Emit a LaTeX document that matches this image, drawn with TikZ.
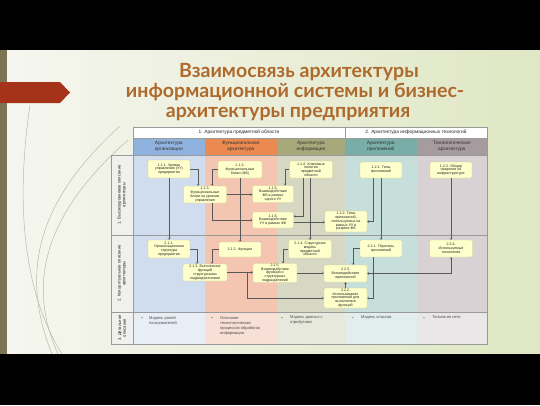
\documentclass[tikz,border=0pt]{standalone}
\usepackage{fontspec}
\setmainfont{Liberation Sans}
\newfontfamily\titlefont{Lato}
\usetikzlibrary{arrows.meta}
\definecolor{bgL}{HTML}{F6F6F0}
\definecolor{bgR}{HTML}{DFE7C3}
\definecolor{stripe}{HTML}{7D7455}
\definecolor{redarrow}{HTML}{A5331A}
\definecolor{titlecol}{HTML}{AE6A2C}
\definecolor{deco}{HTML}{B9B9AC}
\definecolor{cAh}{HTML}{8FB3DE}\definecolor{cAb}{HTML}{CFDDEE}\definecolor{cAl}{HTML}{E7EEF6}
\definecolor{cBh}{HTML}{EA8A50}\definecolor{cBb}{HTML}{F4C6B2}\definecolor{cBl}{HTML}{F8E0D6}
\definecolor{cCh}{HTML}{A7A97A}\definecolor{cCb}{HTML}{D7D8C3}\definecolor{cCl}{HTML}{E8E9DD}
\definecolor{cDh}{HTML}{78AEA7}\definecolor{cDb}{HTML}{C6DFDB}\definecolor{cDl}{HTML}{E2EEEC}
\definecolor{cEh}{HTML}{A69B9E}\definecolor{cEb}{HTML}{D8D2D4}\definecolor{cEl}{HTML}{EAE7E8}
\definecolor{labcol}{HTML}{F0F0EE}
\definecolor{boxfill}{HTML}{FFFFCC}
\definecolor{boxdraw}{HTML}{CFC98F}
\definecolor{gridcol}{HTML}{9A9A9A}
\begin{document}
\begin{tikzpicture}[x=1pt,y=-1pt,
  box/.style={draw=boxdraw, fill=boxfill, rounded corners=1.2pt, align=center, inner sep=0.3pt,
     font=\fontsize{3.6}{3.8}\selectfont, text=black!85},
  sz/.style 2 args={minimum width=#1pt, minimum height=#2pt},
  conn/.style={draw=black!65, line width=0.35pt, -{Straight Barb[length=1.6pt,width=2.6pt]}},
  hdr/.style={inner sep=0pt, align=center, font=\fontsize{4.8}{5.4}\selectfont, text=black!80},
  toph/.style={draw=gridcol, line width=0.4pt, fill=white, inner sep=0pt, font=\fontsize{4.8}{5.4}\selectfont, text=black!85, minimum height=11pt},
  rowlab/.style={rotate=90, align=center, font=\fontsize{4.2}{4.8}\selectfont, text=black!85},
  bul/.style={font=\fontsize{4}{5}\selectfont, text=black!70, inner sep=0pt},
  btxt/.style={anchor=north west, align=left, inner sep=0pt, font=\fontsize{4}{5}\selectfont, text=black!70},
  tline/.style={anchor=base, font=\titlefont\bfseries\fontsize{19.6}{21}\selectfont, text=titlecol}
]
\useasboundingbox (0,0) rectangle (540,405);
% slide background
\shade[left color=bgL, right color=bgR] (0,50) rectangle (540,354);
\fill[black] (0,0) rectangle (540,50);
\fill[black] (0,354) rectangle (540,405);
\fill[stripe] (0,50) rectangle (7,354);
\draw[deco, line width=0.5pt] (30,105) .. controls (16,200) and (22,290) .. (62,354);
\draw[deco, line width=0.5pt] (120,126) .. controls (50,190) and (14,260) .. (52,354);
\draw[deco, line width=0.5pt] (128,140) .. controls (60,200) and (20,270) .. (58,354);
\fill[redarrow] (0,82) -- (60,82) -- (70,92.5) -- (60,103) -- (0,103) -- cycle;
% title
\node[tline] (t1) at (299,77) {Взаимосвязь архитектуры};
\node[tline] (t2) at (295,97) {информационной системы и бизнес-};
\node[tline] (t3) at (288,117) {архитектуры предприятия};
% column bodies
\fill[cAb] (133,155) rectangle (204.5,312); \fill[cAl] (133,312) rectangle (204.5,344);
\fill[cBb] (204.5,155) rectangle (277,312); \fill[cBl] (204.5,312) rectangle (277,344);
\fill[cCb] (277,155) rectangle (345,312);   \fill[cCl] (277,312) rectangle (345,344);
\fill[cDb] (345,155) rectangle (416.5,312); \fill[cDl] (345,312) rectangle (416.5,344);
\fill[cEb] (416.5,155) rectangle (487,312); \fill[cEl] (416.5,312) rectangle (487,344);
\fill[labcol] (111,155) rectangle (133,344);
% top headers
\node[toph, minimum width=212pt] (hA) at (239,132.5) {1. Архитектура предметной области};
\node[toph, minimum width=142pt] (hB) at (416,132.5) {2. Архитектура информационных технологий};
% column headers
\fill[cAh] (133,138) rectangle (204.5,155);
\fill[cBh] (204.5,138) rectangle (277,155);
\fill[cCh] (277,138) rectangle (345,155);
\fill[cDh] (345,138) rectangle (416.5,155);
\fill[cEh] (416.5,138) rectangle (487,155);
\node[hdr] (h1) at (168.75,146.5) {Архитектура\\организации};
\node[hdr] (h2) at (240.75,146.5) {Функциональная\\архитектура};
\node[hdr] (h3) at (311,146.5) {Архитектура\\информации};
\node[hdr] (h4) at (380.75,146.5) {Архитектура\\приложений};
\node[hdr] (h5) at (451.75,146.5) {Технологическая\\архитектура};
% grid
\draw[gridcol, line width=0.5pt] (111,155) rectangle (487,344);
\draw[gridcol, line width=0.4pt] (133,138) -- (487,138);
\draw[gridcol, line width=0.4pt] (133,138) -- (133,155);
\draw[gridcol, line width=0.4pt] (487,138) -- (487,155);
\draw[gridcol, line width=0.6pt] (111,235) -- (487,235);
\draw[gridcol, line width=0.6pt] (111,312) -- (487,312);
\draw[gridcol, line width=0.4pt] (133,155) -- (133,344);
% row labels
\node[rowlab] (r1) at (122,195) {1. Высокоуровневое описание\\архитектуры};
\node[rowlab] (r2) at (122,273.5) {2. Концептуальное описание\\архитектуры};
\node[rowlab] (r3) at (122,328) {3. Детальное\\описание};
% boxes row 1
\node[box, sz={42}{18}] (b111) at (169,169) {1.1.1. Уровни\\управления (УУ)\\предприятия};
\node[box, sz={44}{17}] (b112) at (240,169.5) {1.1.2.\\Функциональные\\блоки (ФБ)};
\node[box, sz={43}{17}] (b113) at (205,194.5) {1.1.3.\\Функциональные\\блоки на уровнях\\управления};
\node[box, sz={43}{17}] (b114) at (311,169.5) {1.1.4. Ключевые\\понятия\\предметной\\области};
\node[box, sz={41}{17}] (b115) at (273,194) {1.1.5.\\Взаимодействие\\ФБ в рамках\\одного УУ};
\node[box, sz={41}{16}] (b116) at (273,220) {1.1.6.\\Взаимодействие\\УУ в рамках ФБ};
\node[box, sz={42}{16}] (b121) at (381,170) {1.2.1. Типы\\приложений};
\node[box, sz={42}{21}] (b122) at (346,221.5) {1.2.2. Типы\\приложений,\\используемых на\\разных УУ в\\разрезе ФБ};
\node[box, sz={42}{16}] (b123) at (451,170) {1.2.3. Общие\\сведения об\\инфраструктуре};
% boxes row 2
\node[box, sz={42}{18}] (b211) at (169,249) {2.1.1.\\Организационная\\структура\\предприятия};
\node[box, sz={42}{15}] (b212) at (240,249.5) {2.1.2. Функции};
\node[box, sz={44}{17}] (b213) at (205,272.5) {2.1.3. Выполнение\\функций\\структурными\\подразделениями};
\node[box, sz={43}{18}] (b214) at (310,249) {2.1.4. Структурная\\модель\\предметной\\области};
\node[box, sz={44}{18}] (b215) at (275,273) {2.1.5.\\Взаимодействие\\функций и\\структурных\\подразделений};
\node[box, sz={42}{17}] (b221) at (381,248.5) {2.2.1. Перечень\\приложений};
\node[box, sz={43}{17}] (b224) at (451,248.5) {2.2.4.\\Используемые\\технологии};
\node[box, sz={43}{17}] (b223) at (345.5,273.5) {2.2.3.\\Взаимодействие\\приложений};
\node[box, sz={43}{20}] (b222) at (345.5,298) {2.2.2.\\Использование\\приложений для\\выполнения\\функций};
% connectors row 1
\draw[conn] (b111.east) -| ([xshift=-7pt]b113.north);
\draw[conn] (b112.west) -| ([xshift=7pt]b113.north);
\draw[conn] (b113.east) -- (b113.east -| b115.west);
\draw[conn] ([xshift=7pt]b113.south) |- (b116.west);
\draw[conn] (b114.west) -| ([xshift=12pt]b115.north);
\draw[conn] ([xshift=-8pt]b114.south) |- ([yshift=4pt]b116.east);
\draw[conn] ([yshift=-2pt]b116.east) -- ([yshift=-2pt]b116.east -| b122.west);
\draw[conn] ([xshift=-8pt]b121.south) |- (b122.east);
\draw[conn] (b121.south) -- (b121.south |- b221.north);
\draw[conn] (b123.south) -- (b123.south |- b224.north);
\draw[conn] (b111.south) -- (b111.south |- b211.north);
\draw[conn] (b112.south) -- (b112.south |- b212.north);
\draw[conn] ([xshift=-1pt]b114.south) -- ([xshift=-1pt]b114.south |- b214.north);
% connectors row 2
\draw[conn] (b211.east) -| ([xshift=-8pt]b213.north);
\draw[conn] (b212.west) -| ([xshift=7pt]b213.north);
\draw[conn] (b213.east) -- (b213.east -| b215.west);
\draw[conn] (b214.west) -| ([xshift=8pt]b215.north);
\draw[conn] (b213.east) -- ++(20,0) |- (b222.west);
\draw[conn] (b215.east) -- (b215.east -| b223.west);
\draw[conn] (b221.west) -| ([xshift=7.5pt]b223.north);
\draw[conn] ([xshift=-8pt]b221.south) |- (b222.east);
\draw[conn, {Straight Barb[length=1.6pt,width=2.6pt]}-{Straight Barb[length=1.6pt,width=2.6pt]}] (b223.east) -| (b224.south);
\draw[conn] (b222.north) -- (b222.north |- b223.south);
% row 3 bullets
\node[bul] (u1) at (142,319) {•};
\node[btxt] (v1) at (149,316) {Модель ролей\\пользователей};
\node[bul] (u2) at (212,319) {•};
\node[btxt] (v2) at (220,316) {Описание\\технологических\\процессов обработки\\информации};
\node[bul] (u3) at (282,319) {•};
\node[btxt] (v3) at (290,316) {Модель данных с\\атрибутами};
\node[bul] (u4) at (353,319) {•};
\node[btxt] (v4) at (361,316) {Модель классов};
\node[bul] (u5) at (424,319) {•};
\node[btxt] (v5) at (432,316) {Топология сети};
\end{tikzpicture}
\end{document}
